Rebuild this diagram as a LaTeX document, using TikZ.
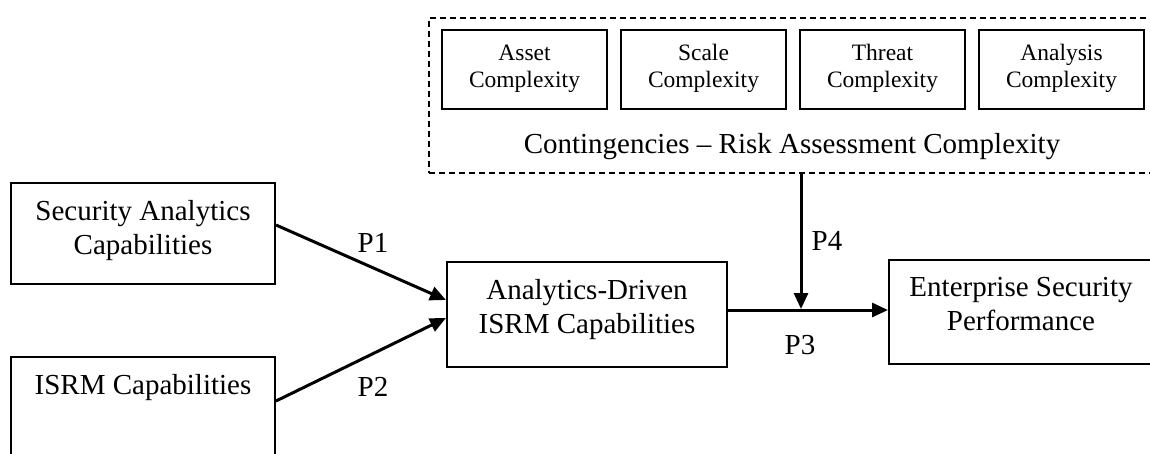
\documentclass[tikz,border=0pt]{standalone}
\usepackage{fontspec}
\setmainfont{Liberation Serif}
\usetikzlibrary{arrows.meta}
\begin{document}
\begin{tikzpicture}[x=1pt,y=-1pt,
  bigbox/.style={draw, line width=2pt, align=center, inner sep=0pt,
    font=\fontsize{29}{34}\selectfont},
  smallbox/.style={draw, line width=2pt, align=center, inner sep=0pt,
    minimum width=165pt, minimum height=79pt, text depth=7pt,
    font=\fontsize{23.5}{26.5}\selectfont},
  plabel/.style={inner sep=0pt, font=\fontsize{29}{34}\selectfont},
  conn/.style={line width=3pt, -{Triangle[length=16pt,width=14pt]}},
  dashbox/.style={draw, line width=2pt, dash pattern=on 6pt off 4pt, inner sep=0pt}]
\useasboundingbox (0,0) rectangle (1150,453);
\clip (0,0) rectangle (1150,453);
% dashed contingency box
\node[dashbox, minimum width=731pt, minimum height=155pt] (cont) at (794.5,95) {};
\node[smallbox] (asset) at (524.5,69.5) {Asset\\Complexity};
\node[smallbox] (scale) at (703.5,69.5) {Scale\\Complexity};
\node[smallbox] (threat) at (882.5,69.5) {Threat\\Complexity};
\node[smallbox] (analysis) at (1061.5,69.5) {Analysis\\Complexity};
\node[plabel] (conttxt) at (792,147) {Contingencies -- Risk Assessment Complexity};
% main boxes
\node[bigbox, minimum width=264pt, minimum height=101pt, text depth=13pt] (sac) at (143,233.5) {Security Analytics\\Capabilities};
\node[bigbox, minimum width=264pt, minimum height=101pt, text depth=13pt] (isrm) at (143,407.5) {ISRM Capabilities\\\mbox{}};
\node[bigbox, minimum width=280pt, minimum height=105pt, text depth=16pt] (ad) at (587,314.5) {Analytics-Driven\\ISRM Capabilities};
\node[bigbox, minimum width=264pt, minimum height=104pt, text depth=16pt] (esp) at (1021,312) {Enterprise Security\\Performance};
% connectors
\coordinate (s1) at (275,225);
\coordinate (t1) at (447,300);
\coordinate (s2) at (275,401);
\coordinate (t2) at (447,318);
\draw[conn] (sac.east |- s1) -- (ad.west |- t1);
\draw[conn] (isrm.east |- s2) -- (ad.west |- t2);
\coordinate (j) at (801,309);
\draw[conn] (ad.east |- 0,310) -- (esp.west |- 0,310);
\draw[conn] (cont.south -| j) -- (j);
% labels
\node[plabel] (p1) at (373,243) {P1};
\node[plabel] (p2) at (373,387) {P2};
\node[plabel] (p4) at (827,241) {P4};
\node[plabel] (p3) at (800,345) {P3};
\end{tikzpicture}
\end{document}
